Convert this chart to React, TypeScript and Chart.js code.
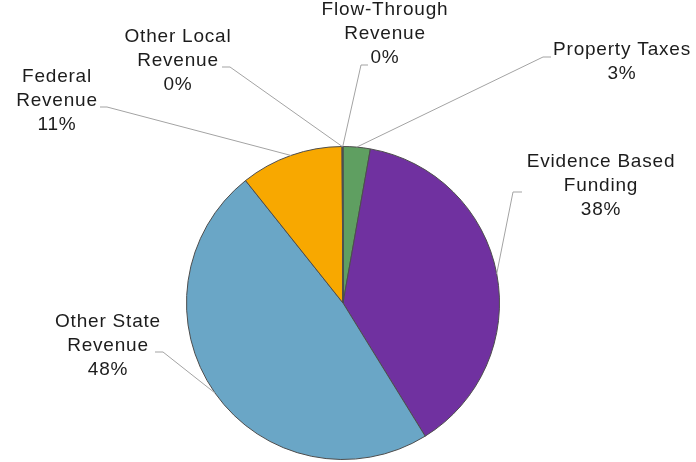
import React, { useEffect, useRef } from "react";
import { Chart, registerables } from "chart.js";

Chart.register(...registerables);

// ---- data ----
const categories = [
  "Property Taxes",
  "Evidence Based Funding",
  "Other State Revenue",
  "Federal Revenue",
  "Other Local Revenue",
  "Flow-Through Revenue",
];
const labelLines = [
  ["Property Taxes"],
  ["Evidence Based", "Funding"],
  ["Other State", "Revenue"],
  ["Federal", "Revenue"],
  ["Other Local", "Revenue"],
  ["Flow-Through", "Revenue"],
];
const shares = [2.8, 38.4, 48.1, 10.6, 0.05, 0.05];
const percentLabels = ["3%", "38%", "48%", "11%", "0%", "0%"];

// ---- styles ----
const sliceColors = ["#5f9f61", "#7031a0", "#6aa6c6", "#f8a800", "#9a9a9a", "#9a9a9a"];

// ---- label layout (text centre x, first line y, elbow, stub end) ----
const labelLayout = [
  { tx: 622, ty: 50, ex: 543, ey: 57, sx: 551, sy: 57 },
  { tx: 601, ty: 162, ex: 513, ey: 192, sx: 522, sy: 192 },
  { tx: 108, ty: 322, ex: 163, ey: 352, sx: 155, sy: 352 },
  { tx: 57, ty: 77, ex: 107, ey: 107, sx: 100, sy: 107 },
  { tx: 178, ty: 37, ex: 230, ey: 67, sx: 222, sy: 67 },
  { tx: 385, ty: 10, ex: 361, ey: 65, sx: 368, sy: 65 },
];
const LINE_H = 24;

const leaderPlugin = {
  id: "leaders",
  afterDatasetsDraw(chart: any) {
    const ctx = chart.ctx as CanvasRenderingContext2D;
    const meta = chart.getDatasetMeta(0);
    ctx.save();
    meta.data.forEach((arc: any, i: number) => {
      const p = arc.getProps(["x", "y", "startAngle", "endAngle", "outerRadius"], true);
      const mid = (p.startAngle + p.endAngle) / 2;
      const px = p.x + Math.cos(mid) * p.outerRadius;
      const py = p.y + Math.sin(mid) * p.outerRadius;
      const L = labelLayout[i];
      ctx.strokeStyle = "#a3a3a3";
      ctx.lineWidth = 1;
      ctx.beginPath();
      ctx.moveTo(px, py);
      ctx.lineTo(L.ex, L.ey);
      ctx.lineTo(L.sx, L.sy);
      ctx.stroke();

      ctx.fillStyle = "#1c1c1c";
      ctx.font = '19px "Liberation Sans", Arial, sans-serif';
      (ctx as any).letterSpacing = "0.8px";
      ctx.textAlign = "center";
      ctx.textBaseline = "middle";
      const lines = [...labelLines[i], percentLabels[i]];
      lines.forEach((t, k) => {
        ctx.fillText(t, L.tx, L.ty + k * LINE_H);
      });
    });
    ctx.restore();
  },
};

export default function App() {
  const ref = useRef<HTMLCanvasElement | null>(null);
  useEffect(() => {
    if (!ref.current) return;
    const chart = new Chart(ref.current, {
      type: "pie",
      data: {
        labels: categories,
        datasets: [
          {
            data: shares,
            backgroundColor: sliceColors,
            borderColor: "#4d4d4d",
            borderWidth: 1,
          },
        ],
      },
      options: {
        responsive: false,
        animation: false,
        layout: { padding: { left: 186, right: 196, top: 146, bottom: 2 } },
        plugins: {
          legend: { display: false },
          tooltip: { enabled: false },
          title: { display: false },
        },
      },
      plugins: [leaderPlugin],
    });
    return () => chart.destroy();
  }, []);
  return (
    <div style={{ position: "absolute", left: 0, top: 0, width: 696, height: 462, background: "#ffffff" }}>
      <canvas ref={ref} width={696} height={462} />
    </div>
  );
}
